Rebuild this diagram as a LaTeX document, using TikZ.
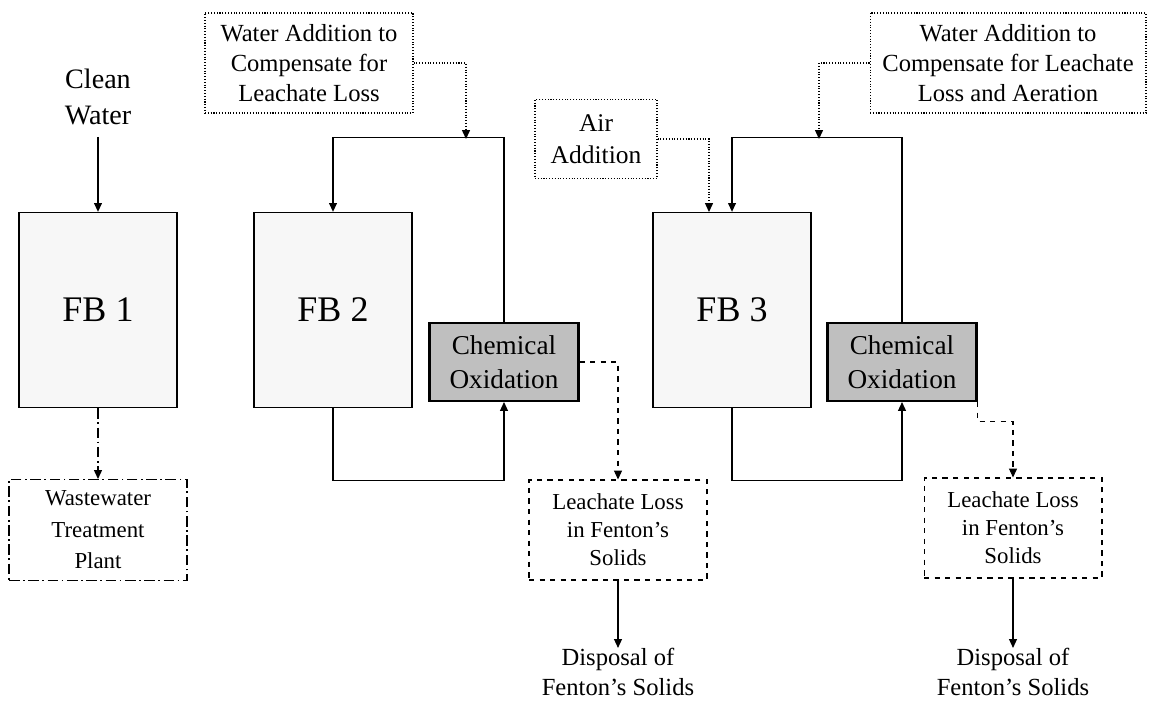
\documentclass[tikz,border=0pt]{standalone}
\usepackage{fontspec}
\setmainfont{Liberation Serif}
\usepackage{tikz}
\usetikzlibrary{shapes,positioning,arrows.meta}
\tikzset {
bett/.style={shape=rectangle,draw,thick,fill=black!3,minimum width=3.16cm,minimum height=3.9cm,font=\fontsize{20.5}{24}\selectfont},
oxidation/.style={shape=rectangle,draw,line width=1.2pt,fill=black!25,minimum width=2.98cm,minimum height=1.56cm,align=center,font=\fontsize{15.5}{19}\selectfont},
zugabe/.style={shape=rectangle,draw,densely dotted,semithick,minimum height=2cm,align=center,inner sep=0pt,font=\fontsize{14}{17}\selectfont},
verlust/.style={shape=rectangle,draw,dashed,semithick,minimum width=3.56cm,minimum height=2cm,align=center,inner sep=0pt,font=\fontsize{13}{16}\selectfont},
klaerwerk/.style={shape=rectangle,draw,strichpunkt,semithick,minimum width=3.56cm,minimum height=2.02cm,align=center,inner sep=0pt,font=\fontsize{13}{18}\selectfont},
strichpunkt/.style={dash pattern=on 6pt off 2pt on 1pt off 2pt},
etikett/.style={align=center,inner sep=0pt},
fluss/.style={->,semithick},
punktfluss/.style={->,semithick,densely dotted},
strichfluss/.style={->,semithick,dashed}
}

\begin{document}
\begin{tikzpicture}
[x=0.02cm,y=-0.02cm,>={Triangle[length=5pt,width=4.5pt]}]
\useasboundingbox (0,0) rectangle (1149,702);
% Bett 1
\node[etikett,font=\fontsize{16}{20}\selectfont] (sauberwasser) at (98,97) {Clean\\Water};
\node[bett] (fb1) at (98,310) {FB 1};
\node[klaerwerk] (klaeranlage) at (98,530) {Wastewater\\Treatment\\Plant};
% Bett 2
\node[bett] (fb2) at (333,310) {FB 2};
\node[zugabe,minimum width=4.16cm] (wasser2) at (309,63) {Water Addition to\\Compensate for\\Leachate Loss};
\node[oxidation] (oxidation2) at (504,362) {Chemical\\Oxidation};
\node[verlust] (verlust2) at (618,530) {Leachate Loss\\in Fenton's\\Solids};
\node[etikett,font=\fontsize{14}{17}\selectfont] (entsorgung2) at (618,672) {Disposal of\\Fenton's Solids};
% Bett 3
\node[bett] (fb3) at (732,310) {FB 3};
\node[zugabe,minimum width=2.44cm,minimum height=1.58cm,font=\fontsize{14.5}{18}\selectfont] (luft) at (596,139) {Air\\Addition};
\node[zugabe,minimum width=5.52cm] (wasser3) at (1008,63) {Water Addition to\\Compensate for Leachate\\Loss and Aeration};
\node[oxidation] (oxidation3) at (902,362) {Chemical\\Oxidation};
\node[verlust] (verlust3) at (1013,528) {Leachate Loss\\in Fenton's\\Solids};
\node[etikett,font=\fontsize{14}{17}\selectfont] (entsorgung3) at (1013,672) {Disposal of\\Fenton's Solids};

\coordinate (zulauf2) at (466,139);
\coordinate (luftzulauf) at (709,212);
\coordinate (zulauf3) at (819,139);

\draw[fluss] (sauberwasser.south) ++(0,12) -- (fb1.north);
\draw[->,semithick,strichpunkt] (fb1.south) to (klaeranlage.north);

\draw[fluss] (oxidation2.north) -- ++(0,-184) -| (fb2.north);
\draw[punktfluss] (wasser2.east) -| (zulauf2);
\draw[fluss] (fb2.south) -- ++(0,72) -| (oxidation2.south);
\draw[strichfluss] (oxidation2.east) -| (verlust2.north);
\draw[fluss] (verlust2.south) to (entsorgung2.north);

\draw[punktfluss] (luft.east) -| (luftzulauf);
\draw[fluss] (oxidation3.north) -- ++(0,-184) -| (fb3.north);
\draw[punktfluss] (wasser3.west) -| (zulauf3);
\draw[fluss] (fb3.south) -- ++(0,72) -| (oxidation3.south);
\draw[strichfluss] (oxidation3.south east) -- ++(0,19) -| (verlust3.north);
\draw[fluss] (verlust3.south) to (entsorgung3.north);
\end{tikzpicture}
\end{document}
